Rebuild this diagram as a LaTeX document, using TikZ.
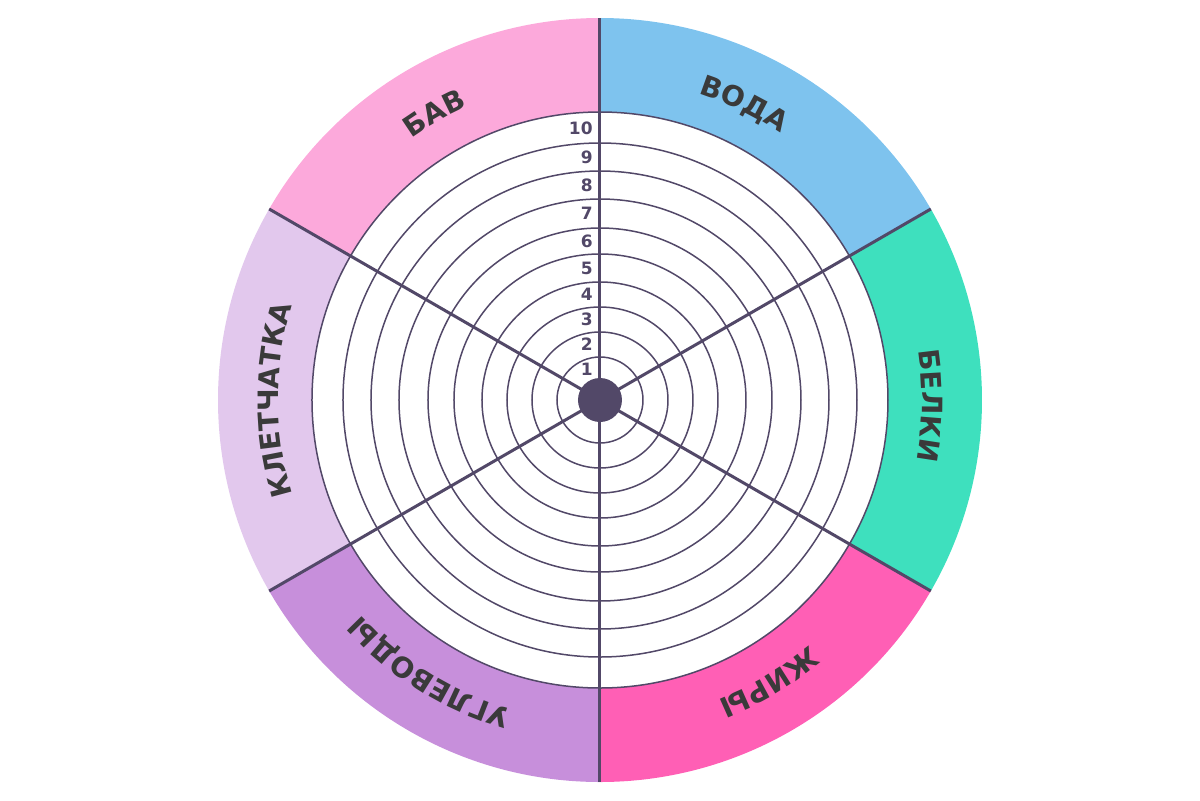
\documentclass[tikz,border=0pt]{standalone}
\usepackage{fontspec}
\setmainfont{DejaVu Sans}
\usetikzlibrary{decorations.text}
\definecolor{wLine}{HTML}{524868}
\definecolor{wText}{HTML}{3A3A3A}
\definecolor{wBav}{HTML}{FCA9DB}
\definecolor{wVoda}{HTML}{7EC3EE}
\definecolor{wBelki}{HTML}{3EE0BE}
\definecolor{wZhiry}{HTML}{FF5FB5}
\definecolor{wUgl}{HTML}{C78FDB}
\definecolor{wKlet}{HTML}{E2C8ED}
\newcommand\wLabelFont{\fontsize{14}{14}\selectfont\bfseries}

\begin{document}
\begin{tikzpicture}[
  x=0.5pt, y=0.5pt,
  ring/.style ={draw=wLine, line width=0.75pt},
  spoke/.style={draw=wLine, line width=1.5pt},
  num/.style  ={font=\fontsize{8.5}{8.5}\selectfont\bfseries, text=wLine, anchor=east, inner sep=0pt},
  lbl/.style  ={decorate, decoration={text along path, text align=center, text color=wText, text={#1}}}]
  \useasboundingbox (-600,-400) rectangle (600,400);
  % coloured sectors
  \foreach \a/\col in {90/wBav, 30/wVoda, -30/wBelki, -90/wZhiry, -150/wUgl, 150/wKlet}
    \fill[\col] (0,0) -- (\a:382) arc[start angle=\a, delta angle=60, radius=382] -- cycle;
  \fill[white] (0,0) circle[radius=288];
  % rings, spokes and scale numbers
  \foreach \k/\r/\m in {1/43/31, 2/68/56, 3/93/81, 4/118/106, 5/146/132, 6/172/159,
                        7/201/187, 8/229/215, 9/257/243, 10/288/272} {
    \draw[ring] (0,0) circle[radius=\r];
    \node[num] (n\k) at (-7,\m) {\k};
  }
  \foreach \a in {30,90,...,330}
    \draw[spoke] (0,0) -- (\a:382);
  \fill[wLine] (0,0) circle[radius=22];
  % sector labels
  \path[lbl={|\wLabelFont|БАВ}]       (150:322) arc[start angle=150, end angle=90, radius=322];
  \path[lbl={|\wLabelFont|ВОДА}]      (94:322)  arc[start angle=94, end angle=34, radius=322];
  \path[lbl={|\wLabelFont|БЕЛКИ}]     (29:322)  arc[start angle=29, end angle=-31, radius=322];
  \path[lbl={|\wLabelFont|ЖИРЫ}]      (-29:322) arc[start angle=-29, end angle=-89, radius=322];
  \path[lbl={|\wLabelFont|УГЛЕВОДЫ}]  (-92:322) arc[start angle=-92, end angle=-152, radius=322];
  \path[lbl={|\wLabelFont|КЛЕТЧАТКА}] (210:322) arc[start angle=210, end angle=150, radius=322];
\end{tikzpicture}
\end{document}
